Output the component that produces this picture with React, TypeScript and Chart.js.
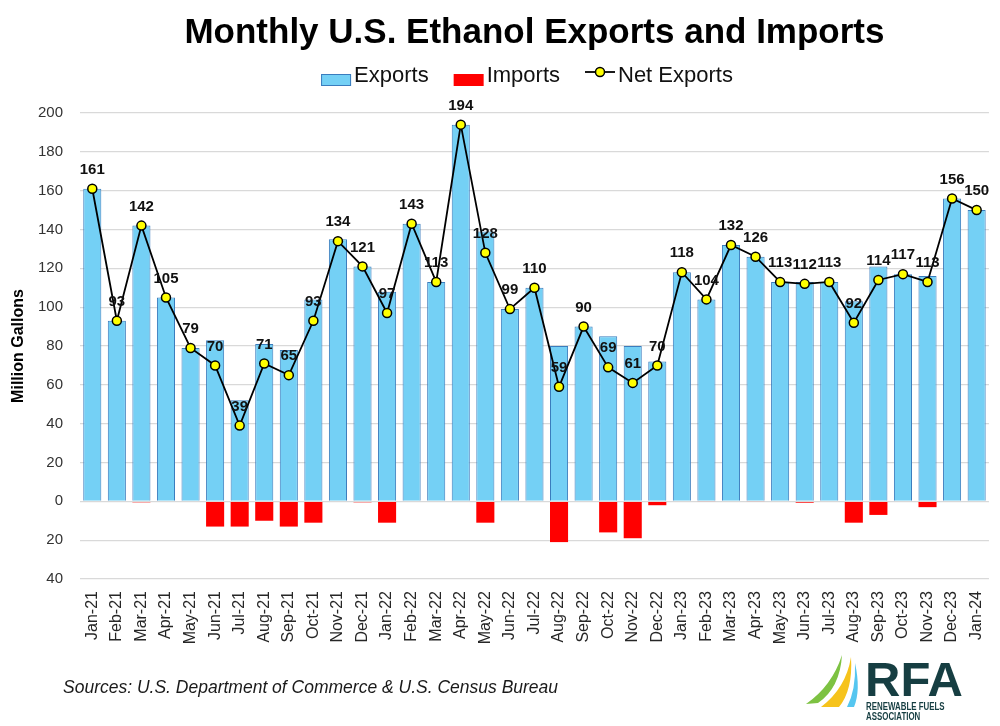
import React, { useEffect, useRef } from "react";
import { Chart, registerables } from "chart.js";

Chart.register(...registerables);

const FONT = "'Liberation Sans', Arial, Helvetica, sans-serif";

const months = [
  "Jan-21", "Feb-21", "Mar-21", "Apr-21", "May-21", "Jun-21", "Jul-21", "Aug-21", "Sep-21", "Oct-21", "Nov-21", "Dec-21",
  "Jan-22", "Feb-22", "Mar-22", "Apr-22", "May-22", "Jun-22", "Jul-22", "Aug-22", "Sep-22", "Oct-22", "Nov-22", "Dec-22",
  "Jan-23", "Feb-23", "Mar-23", "Apr-23", "May-23", "Jun-23", "Jul-23", "Aug-23", "Sep-23", "Oct-23", "Nov-23", "Dec-23",
  "Jan-24",
];

// Million gallons
const exportsVol = [
  161, 93, 142, 105, 79, 83, 52, 81, 78, 104, 135, 121,
  108, 143, 113, 194, 139, 99, 110, 80, 90, 85, 80, 72,
  118, 104, 132, 126, 113, 113, 113, 103, 121, 117, 116, 156,
  150,
];

// Imports plotted below zero
const importsVol = [
  0, 0, -0.5, 0, 0, -13, -13, -10, -13, -11, 0, -0.5,
  -11, 0, 0, 0, -11, 0, 0, -21, 0, -16, -19, -2,
  0, -0.3, 0, -0.3, 0, -0.7, 0, -11, -7, 0, -3, 0,
  0,
];

const netExports = [
  161, 93, 142, 105, 79, 70, 39, 71, 65, 93, 134, 121,
  97, 143, 113, 194, 128, 99, 110, 59, 90, 69, 61, 70,
  118, 104, 132, 126, 113, 112, 113, 92, 114, 117, 113, 156,
  150,
];

const Y_MIN = -40;
const Y_MAX = 200;
const Y_STEP = 20;

const EXPORT_FILL = "#74d0f5";
const EXPORT_EDGE = "#3a7cbd";
const IMPORT_FILL = "#ff0000";
const POINT_FILL = "#ffff00";

// Value labels above each net-export marker
const netLabels = {
  id: "netLabels",
  afterDatasetsDraw(chart: any) {
    const meta = chart.getDatasetMeta(0);
    const ctx = chart.ctx;
    ctx.save();
    ctx.font = `bold 15px ${FONT}`;
    ctx.fillStyle = "#111";
    ctx.textAlign = "center";
    ctx.textBaseline = "middle";
    meta.data.forEach((pt: any, i: number) => {
      ctx.fillText(String(netExports[i]), pt.x, pt.y - 19);
    });
    ctx.restore();
  },
};

// Single-row legend under the title
const legendRow = {
  id: "legendRow",
  afterDraw(chart: any) {
    const ctx = chart.ctx;
    const items = [
      { label: "Exports", kind: "box", fill: EXPORT_FILL, edge: EXPORT_EDGE },
      { label: "Imports", kind: "box", fill: IMPORT_FILL, edge: "" },
      { label: "Net Exports", kind: "line", fill: POINT_FILL, edge: "#000" },
    ];
    ctx.save();
    ctx.font = `22px ${FONT}`;
    ctx.textBaseline = "alphabetic";
    ctx.textAlign = "left";
    const sym = 30;
    const symGap = 3;
    const itemGap = 25;
    const widths = items.map((it) => ctx.measureText(it.label).width);
    const total =
      widths.reduce((a, w) => a + sym + symGap + w, 0) + itemGap * (items.length - 1);
    let x = 527 - total / 2;
    const baseline = 82;
    items.forEach((it, i) => {
      if (it.kind === "box") {
        ctx.fillStyle = it.fill;
        ctx.fillRect(x, 74, sym, 12);
        if (it.edge) {
          ctx.strokeStyle = it.edge;
          ctx.lineWidth = 1;
          ctx.strokeRect(x + 0.5, 74.5, sym - 1, 11);
        }
      } else {
        ctx.strokeStyle = "#000";
        ctx.lineWidth = 1.8;
        ctx.beginPath();
        ctx.moveTo(x, 72);
        ctx.lineTo(x + sym, 72);
        ctx.stroke();
        ctx.beginPath();
        ctx.arc(x + sym / 2, 72, 4.5, 0, Math.PI * 2);
        ctx.fillStyle = it.fill;
        ctx.fill();
        ctx.lineWidth = 1.5;
        ctx.stroke();
      }
      ctx.fillStyle = "#111";
      ctx.fillText(it.label, x + sym + symGap, baseline);
      x += sym + symGap + widths[i] + itemGap;
    });
    ctx.restore();
  },
};

function band(ctx: CanvasRenderingContext2D, color: string, p: number[][]) {
  ctx.beginPath();
  ctx.moveTo(p[0][0], p[0][1]);
  ctx.quadraticCurveTo(p[1][0], p[1][1], p[2][0], p[2][1]);
  ctx.quadraticCurveTo(p[3][0], p[3][1], p[4][0], p[4][1]);
  ctx.closePath();
  ctx.fillStyle = color;
  ctx.fill();
}

// Source note and association mark along the bottom
const footerArt = {
  id: "footerArt",
  afterDraw(chart: any) {
    const ctx: CanvasRenderingContext2D = chart.ctx;
    ctx.save();
    ctx.font = `italic 17.5px ${FONT}`;
    ctx.fillStyle = "#1a1a1a";
    ctx.textAlign = "left";
    ctx.textBaseline = "alphabetic";
    ctx.fillText("Sources: U.S. Department of Commerce & U.S. Census Bureau", 63, 693);

    band(ctx, "#7dc242", [[806, 704], [832, 686], [842, 655], [840, 688], [818, 703]]);
    band(ctx, "#f6c31c", [[821, 707], [846, 688], [851, 657], [853, 690], [839, 707]]);
    band(ctx, "#55c6f0", [[847, 707], [856, 690], [855, 663], [861, 690], [854, 707]]);

    ctx.fillStyle = "#163e42";
    ctx.font = `bold 49px ${FONT}`;
    ctx.fillText("RFA", 865, 696);
    ctx.font = `bold 10px ${FONT}`;
    ctx.translate(866, 0);
    ctx.scale(0.79, 1);
    ctx.fillText("RENEWABLE FUELS", 0, 710);
    ctx.fillText("ASSOCIATION", 0, 720);
    ctx.restore();
  },
};

export default function App() {
  const canvasRef = useRef<HTMLCanvasElement | null>(null);

  useEffect(() => {
    if (!canvasRef.current) return;
    Chart.defaults.font.family = FONT;
    const chart = new Chart(canvasRef.current, {
      type: "bar",
      data: {
        labels: months,
        datasets: [
          {
            type: "line",
            label: "Net Exports",
            data: netExports,
            borderColor: "#000",
            borderWidth: 1.8,
            tension: 0,
            pointRadius: 4.5,
            pointBackgroundColor: POINT_FILL,
            pointBorderColor: "#000",
            pointBorderWidth: 1.5,
            order: 0,
          },
          {
            type: "bar",
            label: "Exports",
            data: exportsVol,
            backgroundColor: EXPORT_FILL,
            borderColor: EXPORT_EDGE,
            borderWidth: 1,
            grouped: false,
            categoryPercentage: 0.8,
            barPercentage: 0.92,
            order: 2,
          },
          {
            type: "bar",
            label: "Imports",
            data: importsVol,
            backgroundColor: IMPORT_FILL,
            borderWidth: 0,
            grouped: false,
            categoryPercentage: 0.8,
            barPercentage: 0.92,
            order: 1,
          },
        ],
      } as any,
      options: {
        responsive: true,
        maintainAspectRatio: false,
        animation: false,
        events: [],
        layout: { padding: { left: 9, right: 6, top: 0, bottom: 0 } },
        plugins: {
          legend: { display: false },
          tooltip: { enabled: false },
          title: {
            display: true,
            text: "Monthly U.S. Ethanol Exports and Imports",
            fullSize: false,
            color: "#000",
            font: { family: FONT, size: 35, weight: "bold" },
            padding: { top: 12, bottom: 59 },
          },
        },
        scales: {
          x: {
            grid: { display: false },
            border: { display: false },
            ticks: {
              autoSkip: false,
              minRotation: 90,
              maxRotation: 90,
              padding: 4,
              color: "#262626",
              font: { size: 16 },
            },
            afterFit: (s: any) => {
              s.height = 147;
            },
          },
          y: {
            min: Y_MIN,
            max: Y_MAX,
            ticks: {
              stepSize: Y_STEP,
              padding: 17,
              color: "#333",
              font: { size: 15 },
              callback: (v: any) => String(Math.abs(Number(v))),
            },
            grid: { color: "#d9d9d9", lineWidth: 1.3, drawTicks: false },
            border: { display: false },
            title: {
              display: true,
              text: "Million Gallons",
              color: "#000",
              font: { size: 16, weight: "bold" },
              padding: 0,
            },
            afterFit: (s: any) => {
              s.width = 71;
            },
          },
        },
      } as any,
      plugins: [netLabels, legendRow, footerArt],
    });
    return () => chart.destroy();
  }, []);

  return (
    <div style={{ position: "fixed", left: 0, top: 0, width: 1000, height: 726, background: "#fff" }}>
      <canvas ref={canvasRef} />
    </div>
  );
}
